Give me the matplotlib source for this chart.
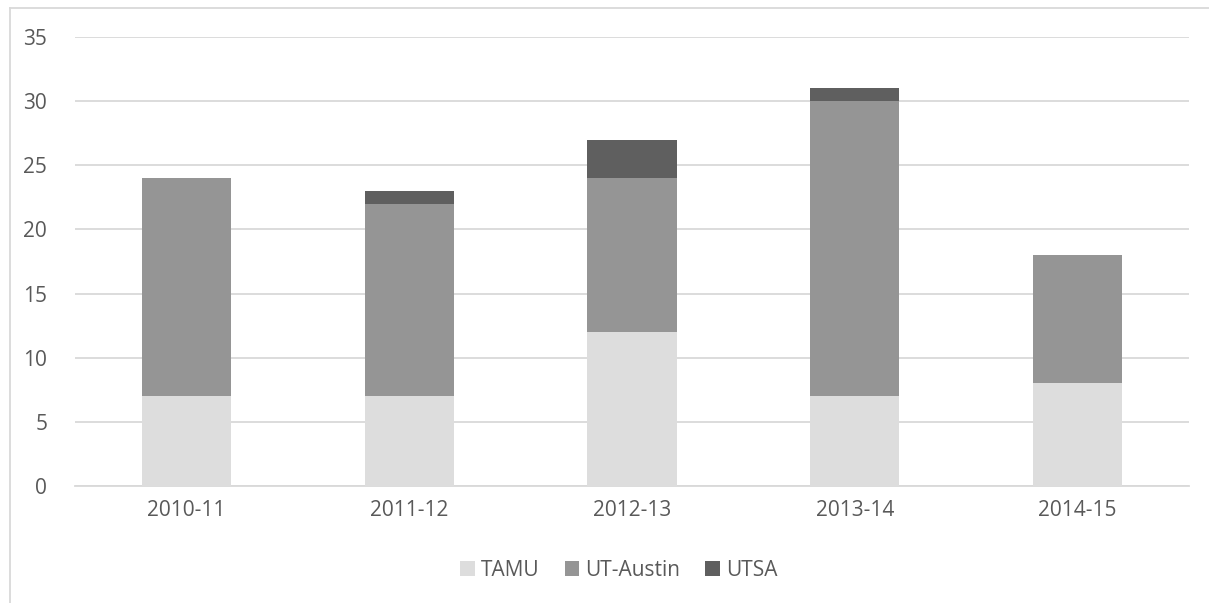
import matplotlib
matplotlib.use("Agg")
import matplotlib.pyplot as plt
from matplotlib.lines import Line2D
import numpy as np

categories = ["2010-11", "2011-12", "2012-13", "2013-14", "2014-15"]
tamu = [7, 7, 12, 7, 8]
ut_austin = [17, 15, 12, 23, 10]
utsa = [0, 1, 3, 1, 0]
series_names = ["TAMU", "UT-Austin", "UTSA"]
colors = ["#DDDDDD", "#959595", "#5F5F5F"]

plt.rcParams['font.family'] = ['Open Sans', 'DejaVu Sans']
W, H = 1209, 603
fig = plt.figure(figsize=(W/100, H/100), dpi=100)
ax = fig.add_axes([75/W, 1-486/H, (1189-75)/W, (486-37)/H])

x = np.arange(len(categories))
bw = 0.4
b1 = np.array(tamu)
b2 = b1 + np.array(ut_austin)
ax.bar(x, tamu, bw, color=colors[0], label=series_names[0], zorder=3)
ax.bar(x, ut_austin, bw, bottom=b1, color=colors[1], label=series_names[1], zorder=3)
ax.bar(x, utsa, bw, bottom=b2, color=colors[2], label=series_names[2], zorder=3)

ax.set_xlim(-0.5, len(categories) - 0.5)
ax.set_ylim(0, 35)
ax.set_yticks(range(0, 36, 5))
ax.set_xticks(x)
ax.set_xticklabels(categories)
ax.yaxis.grid(True, color="#D9D9D9", linewidth=1.3, zorder=0)
for s in ["top", "right", "left"]:
    ax.spines[s].set_visible(False)
ax.spines["bottom"].set_color("#D9D9D9")
ax.spines["bottom"].set_linewidth(1.3)
ax.tick_params(axis="both", length=0, colors="#595959", labelsize=15)
ax.tick_params(axis="y", pad=20)
ax.tick_params(axis="x", pad=10)

leg = fig.legend(loc="center", bbox_to_anchor=(619/W, 1-570/H), ncol=3, frameon=False,
                 fontsize=15, handlelength=0.7, handleheight=0.7, handletextpad=0.3,
                 columnspacing=1.2, labelcolor="#595959")

# outer chart border (partially visible)
fig.add_artist(Line2D([10/W, 10/W], [1-8/H, 0], transform=fig.transFigure, color="#D9D9D9", linewidth=1.3))
fig.add_artist(Line2D([10/W, 1], [1-8/H, 1-8/H], transform=fig.transFigure, color="#D9D9D9", linewidth=1.3))

fig.savefig("out.png", dpi=100)
